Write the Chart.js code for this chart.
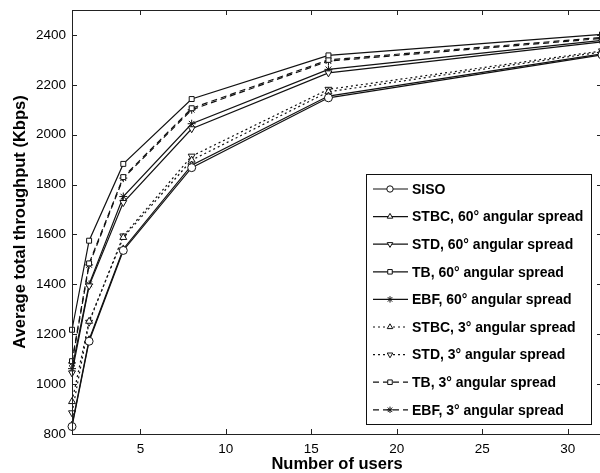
<!DOCTYPE html>
<html>
<head>
<meta charset="utf-8">
<script src="https://cdn.jsdelivr.net/npm/chart.js@4/dist/chart.umd.min.js"></script>
<style>
  html, body { margin: 0; padding: 0; background: #fff; overflow: hidden; }
  #wrap { width: 610px; height: 473px; position: relative; }
</style>
</head>
<body>
<div id="wrap"><canvas id="throughputChart"></canvas></div>
<script>
// x values (number of users)
const users = [1, 2, 4, 8, 16, 32];

// series values (Kbps)
const siso   = [830, 1172, 1536, 1868, 2148, 2320];
const stbc60 = [836, 1178, 1542, 1878, 2155, 2324];
const std60  = [1045, 1394, 1728, 2024, 2248, 2372];
const tb60   = [1218, 1575, 1883, 2143, 2318, 2402];
const ebf60  = [1062, 1400, 1752, 2044, 2262, 2378];
const stbc3  = [930, 1252, 1588, 1898, 2172, 2332];
const std3   = [885, 1248, 1594, 1914, 2182, 2336];
const tb3    = [1092, 1484, 1830, 2106, 2300, 2390];
const ebf3   = [1085, 1478, 1826, 2100, 2295, 2386];

// tick labels
const xTicks = [5, 10, 15, 20, 25, 30];
const yTicks = [800, 1000, 1200, 1400, 1600, 1800, 2000, 2200, 2400];

const FONT = "'Liberation Sans', Arial, Helvetica, sans-serif";

function pts(vals) {
    return users.map((u, i) => ({ x: u, y: vals[i] }));
}

function series(label, vals, style, rot, dash) {
    return {
        label: label,
        data: pts(vals),
        borderColor: "#111",
        borderWidth: 1.2,
        borderDash: dash,
        backgroundColor: "#fff",
        pointStyle: style,
        pointRotation: rot,
        pointRadius: style === "rect" ? 3.5 : 4,
        pointBorderWidth: 1,
        pointBorderColor: "#111",
        pointBackgroundColor: "#fff",
        tension: 0,
        clip: false,
        fill: false
    };
}

const DASHED = [6, 4];
const DOTTED = [2, 3];

const datasets = [
    series("SISO", siso, "circle", 0, []),
    series("STBC, 60° angular spread", stbc60, "triangle", 0, []),
    series("STD, 60° angular spread", std60, "triangle", 180, []),
    series("TB, 60° angular spread", tb60, "rect", 0, []),
    series("EBF, 60° angular spread", ebf60, "star", 0, []),
    series("STBC, 3° angular spread", stbc3, "triangle", 0, DOTTED),
    series("STD, 3° angular spread", std3, "triangle", 180, DOTTED),
    series("TB, 3° angular spread", tb3, "rect", 0, DASHED),
    series("EBF, 3° angular spread", ebf3, "star", 0, DASHED)
];

// Box, inward ticks and in-plot legend, MATLAB style
const matlabFrame = {
    id: "matlabFrame",
    afterDraw(chart) {
        const ctx = chart.ctx;
        const a = chart.chartArea;
        const xs = chart.scales.x, ys = chart.scales.y;
        ctx.save();
        ctx.strokeStyle = "#222";
        ctx.lineWidth = 1;
        ctx.setLineDash([]);
        ctx.strokeRect(a.left + 0.5, a.top + 0.5, a.right - a.left, a.bottom - a.top);
        ctx.beginPath();
        xTicks.forEach(v => {
            const px = Math.round(xs.getPixelForValue(v)) + 0.5;
            ctx.moveTo(px, a.bottom); ctx.lineTo(px, a.bottom - 5);
            ctx.moveTo(px, a.top); ctx.lineTo(px, a.top + 5);
        });
        yTicks.forEach(v => {
            const py = Math.round(ys.getPixelForValue(v)) + 0.5;
            ctx.moveTo(a.left, py); ctx.lineTo(a.left + 5, py);
            ctx.moveTo(a.right, py); ctx.lineTo(a.right - 5, py);
        });
        ctx.stroke();

        // legend
        const bx = 366, by = 174, bw = 225, bh = 250;
        ctx.fillStyle = "#fff";
        ctx.fillRect(bx, by, bw, bh);
        ctx.strokeStyle = "#111";
        ctx.strokeRect(bx + 0.5, by + 0.5, bw, bh);
        ctx.font = "bold 14px " + FONT;
        ctx.textBaseline = "middle";
        ctx.textAlign = "left";
        chart.data.datasets.forEach((ds, i) => {
            const y = by + 15 + i * 27.6;
            ctx.strokeStyle = "#111";
            ctx.lineWidth = 1.2;
            ctx.setLineDash(ds.borderDash);
            ctx.beginPath();
            ctx.moveTo(bx + 7, y); ctx.lineTo(bx + 42, y);
            ctx.stroke();
            ctx.setLineDash([]);
            ctx.lineWidth = 1;
            ctx.fillStyle = "#fff";
            Chart.helpers.drawPoint(ctx, {
                pointStyle: ds.pointStyle,
                rotation: ds.pointRotation,
                radius: 3.2,
                borderWidth: 1
            }, bx + 24, y);
            ctx.fillStyle = "#000";
            ctx.fillText(ds.label, bx + 46, y + 1);
        });
        ctx.restore();
    }
};

new Chart(document.getElementById("throughputChart"), {
    type: "line",
    data: { datasets: datasets },
    options: {
        responsive: true,
        maintainAspectRatio: false,
        animation: false,
        layout: { padding: { top: 10, right: 8, left: 0, bottom: 0 } },
        plugins: {
            legend: { display: false },
            tooltip: { enabled: false }
        },
        scales: {
            x: {
                type: "linear",
                min: 1,
                max: 32,
                afterBuildTicks: s => { s.ticks = xTicks.map(v => ({ value: v })); },
                afterFit: s => { s.height = 39; s.paddingLeft = 0; s.paddingRight = 0; },
                grid: { display: false, drawTicks: false },
                border: { display: false },
                ticks: { color: "#000", padding: 7, font: { family: FONT, size: 13.5 } },
                title: {
                    display: true,
                    text: "Number of users",
                    color: "#000",
                    padding: 0,
                    font: { family: FONT, size: 16.5, weight: "bold", lineHeight: 1 }
                }
            },
            y: {
                min: 800,
                max: 2500,
                afterBuildTicks: s => { s.ticks = yTicks.map(v => ({ value: v })); },
                afterFit: s => { s.width = 72; s.paddingTop = 0; s.paddingBottom = 0; },
                grid: { display: false, drawTicks: false },
                border: { display: false },
                ticks: {
                    color: "#000",
                    padding: 6,
                    font: { family: FONT, size: 13.5 },
                    callback: v => String(v)
                },
                title: {
                    display: true,
                    text: "Average total throughput (Kbps)",
                    color: "#000",
                    padding: { top: 12, bottom: 0 },
                    font: { family: FONT, size: 16.5, weight: "bold", lineHeight: 1 }
                }
            }
        }
    },
    plugins: [matlabFrame]
});
</script>
</body>
</html>
